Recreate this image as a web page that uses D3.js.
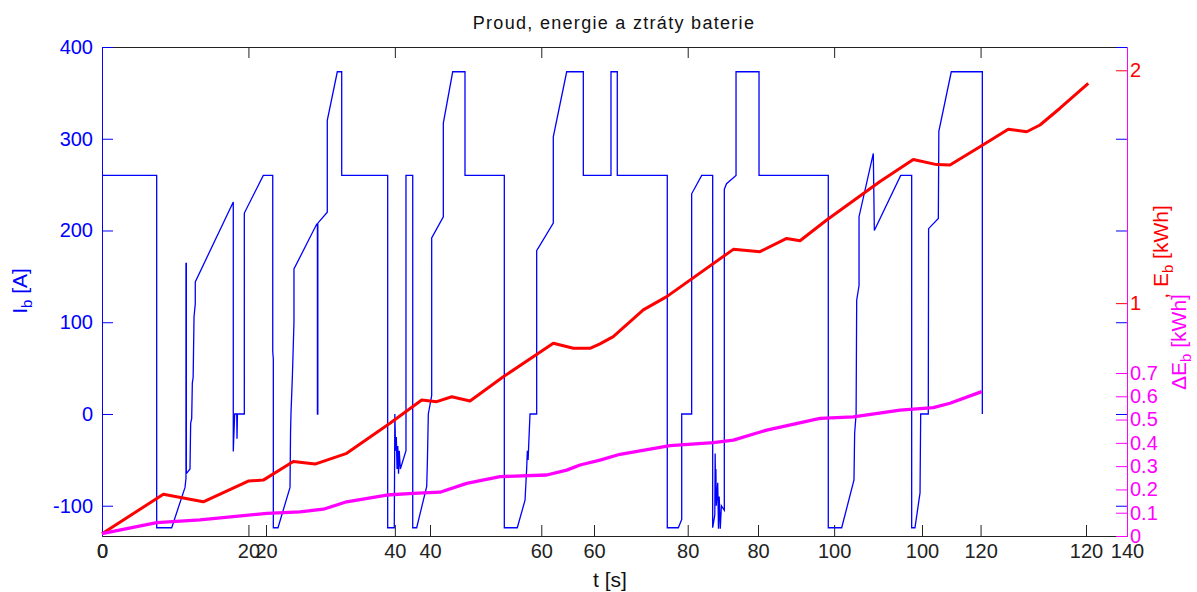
<!DOCTYPE html>
<html lang="cs">
<head>
<meta charset="UTF-8">
<title>Proud, energie a ztráty baterie</title>
<script src="https://d3js.org/d3.v7.min.js"></script>
<style>
body { margin: 0; background: #fff; }
svg text { font-family: "Liberation Sans", Arial, sans-serif; }
</style>
</head>
<body>
<script>

var w = 1197;
var h = 592;
var plot = {left: 102, right: 1127, top: 47, bottom: 536};

// tick values of the overlapping axes
var timeTicksA = [0, 20, 40, 60, 80, 100, 120, 140];
var timeTicksB = [0, 20, 40, 60, 80, 100, 120];
var currentTicks = [-100, 0, 100, 200, 300, 400];
var energyTicks = [1, 2];
var lossTicks = [0, 0.1, 0.2, 0.3, 0.4, 0.5, 0.6, 0.7];

// battery current I_b [A] vs t [s] (time axis A, 0..140)
var current = [[0,260],[7.47,260],[7.47,-124],[9.52,-124],[11.34,-80],[11.47,-70],[11.47,164],[11.52,164],
  [11.52,-65],[12.02,-60],[12.11,-10],[12.25,-5],[12.34,34],[12.45,40],[12.57,106],[12.74,120],[12.74,144],
  [17.93,231],[17.93,-41],[18.12,0],[18.40,0],[18.44,-27],[18.50,0],[19.44,0],[19.44,219],[22.03,260],
  [23.32,260],[23.32,68],[23.40,60],[23.40,-124],[24.04,-124],[25.68,-80],[25.75,-21],[25.81,0],[26.00,40],
  [26.22,100],[26.22,158],[29.33,207],[29.42,207],[29.42,0],[29.48,0],[29.48,208],[30.77,220],[30.77,320],
  [32.14,373],[32.74,373],[32.74,260],[39.02,260],[39.02,-124],[39.92,-124],[40.00,0],[40.10,-40],[40.20,-25],
  [40.30,-60],[40.40,-35],[40.50,-65],[40.60,-40],[40.75,-60],[41.52,-40],[41.52,260],[42.44,260],[42.44,-124],
  [42.98,-124],[44.35,-79],[44.45,-50],[44.57,0],[45.03,20],[45.03,192],[46.62,215],[46.62,317],[47.90,373],
  [49.58,373],[49.58,260],[54.95,260],[54.95,-124],[56.72,-124],[57.78,-94],[58.00,-60],[58.10,-40],[58.20,-50],
  [58.30,-30],[58.46,0],[59.37,0],[59.37,178],[61.64,208],[61.64,302],[63.47,373],[65.74,373],[65.74,260],
  [69.52,260],[69.52,373],[70.38,373],[70.38,260],[77.21,260],[77.21,-124],[78.72,-124],[79.18,-115],[79.18,0],
  [80.54,0],[80.54,240],[81.91,260],[83.41,260],[83.41,-124],[83.70,-110],[83.75,-43],[83.80,-85],[83.85,-60],
  [83.90,-100],[84.10,-75],[84.20,-125],[84.30,-90],[84.45,-125],[84.60,-100],[85.00,-105],[85.00,245],[85.30,251],
  [86.60,260],[86.60,373],[89.74,373],[89.74,260],[99.20,260],[99.20,-124],[101.03,-124],[102.71,-72],[102.80,-21],
  [103.00,0],[103.08,124],[103.40,140],[103.40,215],[105.35,284],[105.49,200],[109.09,260],[110.59,260],
  [110.59,-124],[111.04,-124],[111.73,-86],[111.82,0],[112.86,0],[112.90,202],[114.23,213],[114.30,308],
  [116.00,373],[120.24,373],[120.24,0]];

// battery energy E_b [kWh] (time axis B, 0..125)
var energy = [[0,0.01],[7.48,0.179],[12.35,0.147],[17.84,0.236],[19.67,0.240],[23.33,0.320],[25.98,0.309],
  [29.84,0.355],[35.12,0.484],[38.99,0.584],[40.82,0.577],[42.65,0.598],[44.88,0.580],[48.94,0.684],
  [55.04,0.828],[57.48,0.806],[59.51,0.806],[60.73,0.825],[62.35,0.856],[66.01,0.971],[68.87,1.028],
  [76.99,1.231],[80.24,1.221],[83.50,1.278],[85.12,1.268],[88.38,1.357],[94.88,1.522],[98.94,1.617],
  [101.79,1.595],[103.41,1.593],[107.07,1.672],[110.52,1.747],[112.77,1.736],[114.39,1.765],[116.83,1.837],
  [120.28,1.944]];

// battery losses dE_b [kWh] (time axis A)
var losses = [[0,0.01],[7.47,0.057],[13.39,0.069],[22.50,0.097],[27.04,0.104],[30.23,0.115],[33.42,0.147],
  [38.89,0.176],[42.52,0.183],[46.17,0.188],[49.81,0.226],[54.36,0.255],[60.74,0.262],[63.47,0.283],
  [65.29,0.305],[68.02,0.326],[70.75,0.351],[77.58,0.388],[83.50,0.401],[86.23,0.412],[90.79,0.455],
  [98.07,0.505],[102.62,0.512],[109.00,0.541],[113.54,0.551],[115.82,0.570],[120.16,0.620]];

var svg = d3.select("body")
    .append("svg")
    .attr("width", w)
    .attr("height", h);

svg.append("rect").attr("width", w).attr("height", h).attr("fill", "#fff");

var xA = d3.scaleLinear().domain([0, 140]).range([plot.left, plot.right]);
var xB = d3.scaleLinear().domain([0, 125]).range([plot.left, plot.right]);
var yI = d3.scaleLinear().domain([-133, 400]).range([plot.bottom, plot.top]);
var yE = d3.scaleLinear().domain([0, 2.1]).range([plot.bottom, plot.top]);
var yL = d3.scaleLinear().domain([0, 2.1]).range([plot.bottom, plot.top]);

var plain = function(d) { return String(d); };   // "-100", "2", "0.3" like matlab

function styleAxis(g, color) {
    g.attr("color", color)
     .attr("font-size", 20)
     .attr("font-family", '"Liberation Sans", Arial, sans-serif');
    g.selectAll("path, line").attr("stroke-width", 1);
}

// black frame (time axes)
svg.append("g")
    .attr("transform", "translate(0," + plot.top + ")")
    .call(d3.axisTop(xA).tickValues(timeTicksA.slice(1, -1)).tickSizeInner(-11).tickSizeOuter(0).tickFormat(""))
    .call(styleAxis, "#222");

svg.append("g")
    .attr("transform", "translate(0," + plot.bottom + ")")
    .call(d3.axisBottom(xA).tickValues(timeTicksA).tickSizeInner(-11).tickSizeOuter(0).tickPadding(8).tickFormat(plain))
    .call(styleAxis, "#222");

svg.append("g")
    .attr("transform", "translate(0," + plot.bottom + ")")
    .call(d3.axisBottom(xB).tickValues(timeTicksB).tickSizeInner(-11).tickSizeOuter(0).tickPadding(8).tickFormat(plain))
    .call(styleAxis, "#222");

// current
svg.append("path")
    .datum(current)
    .attr("fill", "none")
    .attr("stroke", "#0000ff")
    .attr("stroke-width", 1.3)
    .attr("d", d3.line().x(function(d) { return xA(d[0]); }).y(function(d) { return yI(d[1]); }));

svg.append("g")
    .attr("transform", "translate(" + plot.left + ",0)")
    .call(d3.axisLeft(yI).tickValues(currentTicks).tickSizeInner(-11).tickSizeOuter(0).tickPadding(9).tickFormat(plain))
    .call(styleAxis, "#0000ff");

var rightI = svg.append("g")
    .attr("transform", "translate(" + plot.right + ",0)")
    .call(d3.axisRight(yI).tickValues(currentTicks).tickSizeInner(-11).tickSizeOuter(0).tickFormat(""))
    .call(styleAxis, "#0000ff");
rightI.select(".domain").remove();

// energy
svg.append("path")
    .datum(energy)
    .attr("fill", "none")
    .attr("stroke", "#ff0000")
    .attr("stroke-width", 3)
    .attr("stroke-linejoin", "round")
    .attr("d", d3.line().x(function(d) { return xB(d[0]); }).y(function(d) { return yE(d[1]); }));

var rightE = svg.append("g")
    .attr("transform", "translate(" + plot.right + ",0)")
    .call(d3.axisRight(yE).tickValues(energyTicks).tickSizeInner(-11).tickSizeOuter(0).tickPadding(3).tickFormat(plain))
    .call(styleAxis, "#ff0000");
rightE.select(".domain").remove();

// losses
svg.append("path")
    .datum(losses)
    .attr("fill", "none")
    .attr("stroke", "#ff00ff")
    .attr("stroke-width", 3.3)
    .attr("stroke-linejoin", "round")
    .attr("d", d3.line().x(function(d) { return xA(d[0]); }).y(function(d) { return yL(d[1]); }));

svg.append("g")
    .attr("transform", "translate(" + plot.right + ",0)")
    .call(d3.axisRight(yL).tickValues(lossTicks).tickSizeInner(-11).tickSizeOuter(0).tickPadding(3).tickFormat(plain))
    .call(styleAxis, "#ff00ff");

// texts
svg.append("text")
    .attr("x", 614)
    .attr("y", 29)
    .attr("text-anchor", "middle")
    .attr("font-size", 18)
    .attr("letter-spacing", 1.3)
    .attr("fill", "#111")
    .text("Proud, energie a ztráty baterie");

svg.append("text")
    .attr("x", 610)
    .attr("y", 587)
    .attr("text-anchor", "middle")
    .attr("font-size", 21)
    .attr("fill", "#111")
    .text("t [s]");

function subLabel(x, y, color, pre, main, sub, post) {
    var t = svg.append("text")
        .attr("transform", "translate(" + x + "," + y + ") rotate(-90)")
        .attr("text-anchor", "middle")
        .attr("font-size", 21)
        .attr("fill", color);
    t.append("tspan").text(pre + main);
    t.append("tspan").attr("font-size", 15).attr("dy", 5).text(sub);
    t.append("tspan").attr("dy", -5).text(post);
}

subLabel(27, 291, "#0000ff", "", "I", "b", " [A]");
subLabel(1168, 252, "#ff0000", ", ", "E", "b", " [kWh]");
subLabel(1186, 342, "#ff00ff", "", "ΔE", "b", " [kWh]");

</script>
</body>
</html>
